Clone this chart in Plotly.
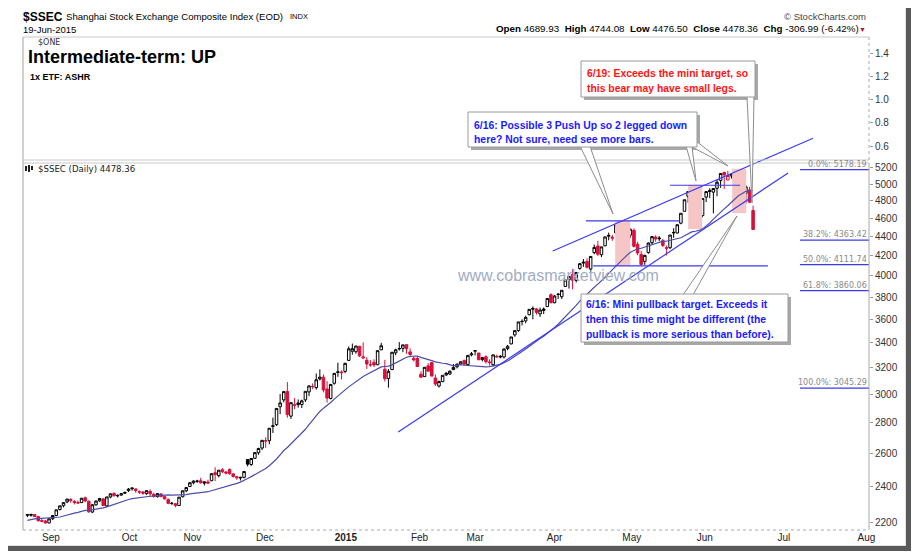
import math
import plotly.graph_objects as go

# ---------------- DATA ----------------
# $SSEC daily candles, 21-Aug-2014 .. 19-Jun-2015, x = trading-day index
open_ = [
    # Aug
    2236, 2236, 2240, 2229, 2208, 2206, 2195,
    # Sep
    2218, 2235, 2268, 2289, 2310, 2325, 2313, 2307, 2306, 2333, 2314, 2254, 2294, 2316, 2327, 2288, 2338, 2358, 2344, 2349, 2359,
    # Oct
    2374, 2385, 2384, 2368, 2366, 2357, 2370, 2353, 2340, 2355, 2340, 2323, 2302, 2300, 2290, 2339, 2373, 2398,
    # Nov
    2420, 2428, 2432, 2418, 2425, 2432, 2480, 2462, 2498, 2484, 2500, 2473, 2456, 2448, 2452, 2560, 2530, 2568, 2603, 2633,
    # Dec
    2678, 2680, 2775, 2787, 2911, 2960, 3021, 2845, 2919, 2926, 2927, 2960, 3018, 3056, 3049, 3114, 3128, 3039, 2970, 3082, 3164, 3161, 3172,
    # Jan
    3258, 3331, 3327, 3372, 3277, 3259, 3223, 3242, 3224, 3343, 3189, 3117, 3186, 3318, 3354, 3355, 3385, 3326, 3275, 3273,
    # Feb
    3150, 3132, 3215, 3242, 3121, 3061, 3094, 3145, 3152, 3186, 3208, 3229, 3258, 3225, 3302,
    # Mar
    3332, 3317, 3264, 3287, 3246, 3224, 3291, 3284, 3285, 3353, 3391, 3466, 3503, 3580, 3586, 3640, 3696, 3692, 3648, 3678, 3713, 3822,
    # Apr
    3748, 3827, 3803, 3899, 3964, 4015, 3958, 4074, 4127, 4143, 4068, 4233, 4302, 4212, 4304, 4405, 4383, 4441, 4528, 4449, 4483,
    # May
    4417, 4469, 4320, 4214, 4144, 4233, 4337, 4396, 4386, 4358, 4277, 4284, 4440, 4440, 4547, 4680, 4854, 4935, 4943, 4603,
    # Jun
    4633, 4844, 4924, 4903, 4950, 5045, 5145, 5050, 5100, 5144, 5175, 5004, 4890, 4930, 4689.93,
]
high = [
    2243, 2243, 2243, 2233, 2217, 2210, 2218,
    2236, 2266, 2289, 2307, 2328, 2330, 2320, 2318, 2332, 2341, 2318, 2298, 2318, 2333, 2332, 2339, 2357, 2365, 2352, 2361, 2368,
    2389, 2392, 2386, 2376, 2372, 2375, 2381, 2362, 2358, 2359, 2345, 2330, 2310, 2303, 2337, 2375, 2392, 2425,
    2434, 2438, 2449, 2428, 2438, 2478, 2513, 2495, 2508, 2490, 2505, 2475, 2460, 2455, 2488, 2561, 2568, 2604, 2635, 2684,
    2703, 2763, 2835, 2900, 3002, 3023, 3091, 2940, 2973, 2963, 2961, 3022, 3065, 3081, 3156, 3188, 3149, 3098, 3073, 3158, 3240, 3180, 3239,
    3369, 3394, 3374, 3373, 3404, 3283, 3260, 3267, 3337, 3400, 3262, 3190, 3325, 3352, 3406, 3384, 3386, 3354, 3287, 3288,
    3173, 3205, 3236, 3245, 3149, 3102, 3142, 3167, 3181, 3229, 3235, 3250, 3264, 3299, 3325,
    3336, 3317, 3286, 3299, 3266, 3304, 3303, 3300, 3356, 3383, 3449, 3504, 3578, 3600, 3632, 3689, 3715, 3699, 3704, 3705, 3787, 3835,
    3817, 3835, 3866, 3961, 4000, 4069, 4034, 4128, 4168, 4174, 4195, 4317, 4356, 4293, 4398, 4444, 4421, 4529, 4572, 4499, 4505,
    4488, 4490, 4347, 4250, 4211, 4339, 4402, 4415, 4408, 4378, 4306, 4418, 4492, 4530, 4658, 4814, 4911, 4958, 4986, 4698,
    4829, 4911, 4950, 4947, 5051, 5131, 5147, 5164, 5134, 5178.19, 5176, 5029, 4985, 4967, 4744.08,
]
low = [
    2226, 2229, 2228, 2202, 2202, 2192, 2193,
    2210, 2232, 2262, 2280, 2303, 2305, 2296, 2298, 2304, 2309, 2250, 2248, 2289, 2310, 2288, 2284, 2330, 2340, 2335, 2344, 2355,
    2366, 2374, 2362, 2355, 2350, 2350, 2340, 2334, 2334, 2338, 2325, 2297, 2293, 2280, 2289, 2336, 2365, 2396,
    2411, 2419, 2415, 2405, 2412, 2430, 2430, 2452, 2477, 2470, 2467, 2451, 2438, 2433, 2446, 2518, 2521, 2564, 2590, 2620,
    2634, 2657, 2731, 2778, 2859, 2942, 2834, 2826, 2894, 2905, 2902, 2945, 2987, 3038, 3035, 3103, 3014, 2940, 2963, 3071, 3130, 3111, 3158,
    3253, 3303, 3312, 3285, 3268, 3191, 3208, 3207, 3220, 3340, 3095, 3049, 3182, 3299, 3337, 3324, 3311, 3296, 3250, 3210,
    3122, 3129, 3171, 3136, 3061, 3050, 3091, 3137, 3144, 3182, 3195, 3224, 3221, 3217, 3290,
    3298, 3260, 3250, 3233, 3218, 3211, 3281, 3275, 3274, 3339, 3388, 3450, 3492, 3547, 3566, 3636, 3600, 3641, 3621, 3646, 3710, 3743,
    3743, 3782, 3781, 3895, 3879, 3872, 3937, 4060, 4089, 4073, 4038, 4217, 4200, 4187, 4299, 4362, 4356, 4441, 4432, 4428, 4441,
    4387, 4286, 4207, 4099, 4109, 4222, 4313, 4347, 4353, 4290, 4204, 4270, 4388, 4437, 4535, 4680, 4777, 4855, 4614, 4486,
    4615, 4787, 4832, 4657, 4854, 4955, 4942, 5050, 5067, 5103, 5048, 4846, 4767, 4780, 4476.50,
]
close = [
    2240, 2241, 2229, 2207, 2204, 2195, 2217,
    2235, 2266, 2288, 2306, 2326, 2318, 2307, 2304, 2331, 2315, 2255, 2294, 2315, 2329, 2290, 2338, 2356, 2345, 2347, 2357, 2364,
    2383, 2389, 2374, 2366, 2360, 2374, 2356, 2341, 2357, 2340, 2327, 2302, 2302, 2290, 2337, 2373, 2392, 2420,
    2430, 2430, 2420, 2425, 2418, 2474, 2469, 2495, 2486, 2478, 2474, 2457, 2450, 2452, 2487, 2532, 2567, 2604, 2630, 2683,
    2680, 2763, 2779, 2899, 2938, 3020, 2856, 2940, 2925, 2938, 2953, 3022, 3062, 3058, 3108, 3128, 3032, 2973, 3073, 3157, 3168, 3166, 3235,
    3351, 3352, 3374, 3294, 3285, 3229, 3223, 3222, 3336, 3376, 3116, 3173, 3323, 3343, 3351, 3383, 3352, 3305, 3262, 3210,
    3128, 3204, 3174, 3136, 3076, 3095, 3142, 3158, 3173, 3203, 3228, 3247, 3228, 3298, 3310,
    3336, 3263, 3280, 3248, 3241, 3302, 3286, 3290, 3349, 3372, 3449, 3502, 3577, 3582, 3617, 3688, 3691, 3661, 3682, 3691, 3786, 3748,
    3810, 3825, 3863, 3961, 3995, 3957, 4034, 4121, 4135, 4085, 4194, 4287, 4217, 4293, 4398, 4414, 4394, 4527, 4476, 4476, 4441,
    4480, 4298, 4229, 4112, 4205, 4333, 4401, 4376, 4379, 4308, 4283, 4418, 4446, 4530, 4658, 4813, 4910, 4941, 4620, 4612,
    4828, 4910, 4910, 4947, 5023, 5131, 5113, 5106, 5121, 5166, 5062, 4887, 4967, 4785.35, 4478.36,
]
# closes of the 19 sessions before the first bar (for the 20-day moving average)
prior_closes = [2127, 2178, 2184, 2182, 2202, 2186, 2223, 2221, 2217, 2195,
                2194, 2225, 2222, 2224, 2207, 2226, 2239, 2245, 2240]
MA_PERIOD = 20

month_labels = ["Sep", "Oct", "Nov", "Dec", "<b>2015</b>", "Feb", "Mar", "Apr", "May", "Jun", "Jul", "Aug"]
month_pos = [6.5, 28.3, 45.7, 65.8, 88.2, 108.6, 124.0, 146.0, 167.4, 187.6, 209.5, 232.4]
price_ticks = [2200, 2400, 2600, 2800, 3000, 3200, 3400, 3600, 3800, 4000,
               4200, 4400, 4600, 4800, 5000, 5200]
one_ticks = [0.6, 0.8, 1.0, 1.2, 1.4]
one_value = 1.0

fib_pct = ["0.0%", "38.2%", "50.0%", "61.8%", "100.0%"]
fib_levels = [5178.19, 4363.42, 4111.74, 3860.06, 3045.29]
fib_start = 214.0

# analyst drawings (trading-day index, price)
upper_channel = ([145.5, 217.6], [4250, 5590])
lower_channel = ([102.7, 210.7], [2738, 5137])
h_lines = [([154.7, 180.8], 4572), ([178.0, 197.4], 4986), ([156.7, 205.1], 4100)]
zones = [([162.8, 167.0], [4098, 4571]), ([183.0, 186.9], [4483, 4989]),
         ([195.2, 199.1], [4660, 5190])]

last_bar = dict(open=4689.93, high=4744.08, low=4476.50, close=4478.36, chg=-306.99, pct=-6.42)

# ---------------- LAYOUT GEOMETRY ----------------
# positions below are page pixels; the page body adds an 8px margin, so subtract it
OFF = 8
W, H = 920, 557
X0, X1, Y0, Y1 = 23, 869, 37, 530
XR = [-1.22, 233.1]
ARIAL = "Liberation Sans, Arial, sans-serif"
NARROW = "Liberation Sans Narrow, Arial Narrow, Liberation Sans, Arial, sans-serif"
SMALL = "DejaVu Sans, Verdana, sans-serif"
RED = "#d8103a"
BLUE = "#3a3af0"


def px(x):
    return (x - X0) / (X1 - X0)


def py(y):
    return (Y1 - y) / (Y1 - Y0)


# main price axis spans full plot height (drawings may reach into top panel)
ylog_bottom = math.log10(2200) - 8 / 947.7
ylog_top = math.log10(2200) + (522 - Y0) / 947.7

n = len(close)
xs = list(range(n))
prev = [prior_closes[-1]] + close[:-1]
black_idx = [i for i in xs if close[i] >= prev[i]]
red_idx = [i for i in xs if close[i] < prev[i]]
allc = prior_closes + close
ma = [sum(allc[i:i + MA_PERIOD]) / MA_PERIOD for i in range(n)]

fig = go.Figure()

# shaded zones (under the candles)
for (zx, zy) in zones:
    fig.add_trace(go.Scatter(x=[zx[0], zx[1], zx[1], zx[0], zx[0]],
                             y=[zy[0], zy[0], zy[1], zy[1], zy[0]],
                             fill="toself", fillcolor="#f6c6c6", mode="lines",
                             line=dict(width=0, color="rgba(0,0,0,0)"),
                             hoverinfo="skip", showlegend=False))

# moving average
fig.add_trace(go.Scatter(x=xs, y=ma, mode="lines", line=dict(color="#4c4ca8", width=1.2),
                         hoverinfo="skip", showlegend=False))


def candle(idx, col):
    return go.Candlestick(
        x=idx, open=[open_[i] for i in idx], high=[high[i] for i in idx],
        low=[low[i] for i in idx], close=[close[i] for i in idx],
        increasing=dict(line=dict(color=col, width=1), fillcolor="white"),
        decreasing=dict(line=dict(color=col, width=1), fillcolor=col),
        whiskerwidth=0, showlegend=False, hoverinfo="skip")


fig.add_trace(candle(black_idx, "#000000"))
fig.add_trace(candle(red_idx, RED))

# trend lines
for (lx, ly) in [upper_channel, lower_channel]:
    fig.add_trace(go.Scatter(x=lx, y=ly, mode="lines", line=dict(color=BLUE, width=1.2),
                             hoverinfo="skip", showlegend=False))
for (lx, lv) in h_lines:
    fig.add_trace(go.Scatter(x=lx, y=[lv, lv], mode="lines", line=dict(color=BLUE, width=1.2),
                             hoverinfo="skip", showlegend=False))
# fibonacci levels
for lv in fib_levels:
    fig.add_trace(go.Scatter(x=[fib_start, XR[1]], y=[lv, lv], mode="lines",
                             line=dict(color=BLUE, width=1.2), hoverinfo="skip", showlegend=False))

# $ONE panel (constant line, not visible in the original)
fig.add_trace(go.Scatter(x=[0, n - 1], y=[one_value, one_value], yaxis="y2", mode="lines",
                         line=dict(color="rgba(0,0,0,0)", width=1), hoverinfo="skip", showlegend=False))

annotations = []


def txt(x, y, s, size, color="#000", anchor="left", family=ARIAL):
    annotations.append(dict(xref="paper", yref="paper", x=px(x), y=py(y), text=s, showarrow=False,
                            xanchor=anchor, yanchor="middle", borderpad=0,
                            font=dict(size=size, color=color, family=family)))


# header
txt(22, 17, "<b>$SSEC</b>", 12)
txt(65, 17, "Shanghai Stock Exchange Composite Index (EOD)", 9.6)
txt(289, 17, "INDX", 7.5)
txt(22, 30, "19-Jun-2015", 9.5)
txt(867, 16, "\u00a9 StockCharts.com", 9.5, "#444", "right")
nb = "\u00a0\u00a0"
ohlc = (f"<b>Open</b> {last_bar['open']:.2f}{nb}<b>High</b> {last_bar['high']:.2f}{nb}"
        f"<b>Low</b> {last_bar['low']:.2f}{nb}<b>Close</b> {last_bar['close']:.2f}{nb}"
        f"<b>Chg</b> {last_bar['chg']:.2f} ({last_bar['pct']:.2f}%)")
txt(860, 29, ohlc, 9.8, "#000", "right")
txt(867, 30, "\u25BC", 7, "#c0102a", "right")

# top panel texts
txt(37, 42, "$ONE", 8, "#333", family=SMALL)
txt(27, 57, "<b>Intermediate-term: UP</b>", 18)
txt(29, 77, "<b>1x ETF: ASHR</b>", 9)

# price panel caption
txt(37, 169, "$SSEC (Daily) 4478.36", 8.6, "#222", family=SMALL)

# watermark
txt(456, 275, "www.cobrasmarketview.com", 16, "#a2acc2")

# fib labels
for pct, lv in zip(fib_pct, fib_levels):
    annotations.append(dict(xref="x", yref="y", x=232.9, y=math.log10(lv), text=f"{pct}: {lv:.2f}",
                            showarrow=False, xanchor="right", yanchor="bottom", borderpad=0, yshift=0,
                            font=dict(size=8, color="#8a8a8a", family=SMALL)))

# callout texts
for (x, y, s, c) in [
    (586, 73, "6/19: Exceeds the mini target, so", "#ff1414"),
    (586, 88, "this bear may have small legs.", "#ff1414"),
    (473, 125, "6/16: Possible 3 Push Up so 2 legged down", "#1a1aff"),
    (473, 139, "here? Not sure, need see more bars.", "#1a1aff"),
    (585, 304, "6/16: Mini pullback target. Exceeds it", "#1a1aff"),
    (585, 319, "then this time might be different (the", "#1a1aff"),
    (585, 334, "pullback is more serious than before).", "#1a1aff"),
]:
    txt(x, y, "<b>" + s + "</b>", 10.4, c)

shapes = []


def rect(x0, y0, x1, y1, line="rgba(0,0,0,0)", fill="rgba(0,0,0,0)", lw=1, dash="solid"):
    shapes.append(dict(type="rect", xref="paper", yref="paper", x0=px(x0), x1=px(x1),
                       y0=py(y1), y1=py(y0), line=dict(color=line, width=lw, dash=dash),
                       fillcolor=fill, layer="above"))


def seg(x0, y0, x1, y1, color, lw=1, dash="solid"):
    shapes.append(dict(type="line", xref="paper", yref="paper", x0=px(x0), x1=px(x1),
                       y0=py(y0), y1=py(y1), line=dict(color=color, width=lw, dash=dash), layer="above"))


def wedge(b1, tip, b2):
    p = lambda q: f"{px(q[0]):.5f},{py(q[1]):.5f}"
    shapes.append(dict(type="path", xref="paper", yref="paper",
                       path=f"M {p(b1)} L {p(tip)} L {p(b2)} Z",
                       line=dict(color="#8c8c8c", width=1), fillcolor="white", layer="above"))


# outer frame + shadow
rect(2, 2, 906, 546, line="#c4c4c4")
rect(906, 7, 911, 551, fill="#5a5a5a", lw=0)
rect(7, 546, 911, 551, fill="#5a5a5a", lw=0)

# panel borders
seg(X0, 37, X1, 37, "#c8c8c8")
seg(X0, 37, X0, 530, "#d0d0d0", 2)
seg(X0, 160, X1, 160, "#c8c8c8")
seg(X0, 163, X1, 163, "#c8c8c8")
seg(X1, 37, X1, 160, "#aaaaaa", 1, "dot")
seg(X1, 163, X1, 530, "#aaaaaa")
seg(X0, 530, X1, 530, "#aaaaaa", 1, "dot")

# price caption icon
for (a, b, c2) in [(26, 166, 171), (29, 165, 172), (32, 166, 170)]:
    seg(a, b, a, c2, "#222", 2)

# callout boxes: shadows, pointers, boxes
boxes = [(581, 61, 755, 97), (468, 112, 697, 147), (581, 294, 788, 342)]
for (a, b, c2, d) in boxes:
    rect(a + 3, b + 3, c2 + 3, d + 3, fill="#a8a8a8", lw=0)
wedge((747, 96), (752, 203), (754, 96))
wedge((580, 146), (613, 214), (590, 146))
wedge((686, 146), (696, 181), (692, 146))
wedge((690, 146), (728, 166), (696, 141))
wedge((683, 295), (737, 216), (693, 295))
for (a, b, c2, d) in boxes:
    rect(a, b, c2, d, line="#9a9a9a", fill="white")

tick_font = dict(size=10, color="#333", family=ARIAL)
fig.update_layout(
    width=W, height=H,
    margin=dict(l=X0 - OFF, r=W - (X1 - OFF), t=Y0 - OFF, b=H - (Y1 - OFF), pad=0),
    paper_bgcolor="white", plot_bgcolor="rgba(0,0,0,0)",
    showlegend=False, boxgap=0.3, boxgroupgap=0,
    xaxis=dict(range=XR, showgrid=False, zeroline=False, showline=False,
               rangeslider=dict(visible=False), tickmode="array", tickvals=month_pos,
               ticktext=month_labels, ticks="", tickfont=dict(size=10, color="#222", family=NARROW),
               fixedrange=True),
    yaxis=dict(type="log", range=[ylog_bottom, ylog_top], domain=[0, 1], side="right",
               showgrid=False, zeroline=False, showline=False, tickmode="array",
               tickvals=price_ticks, ticktext=[str(v) for v in price_ticks],
               ticks="outside", ticklen=3, tickcolor="#999", tickfont=tick_font, fixedrange=True),
    yaxis2=dict(domain=[(Y1 - 160) / (Y1 - Y0), 1], anchor="x", side="right",
                range=[0.4796, 1.5376], showgrid=False, zeroline=False, showline=False,
                tickmode="array", tickvals=one_ticks, ticktext=[f"{v:.1f}" for v in one_ticks],
                ticks="outside", ticklen=3, tickcolor="#999", tickfont=tick_font, fixedrange=True),
    annotations=annotations, shapes=shapes,
)

fig.write_html("out.html")
